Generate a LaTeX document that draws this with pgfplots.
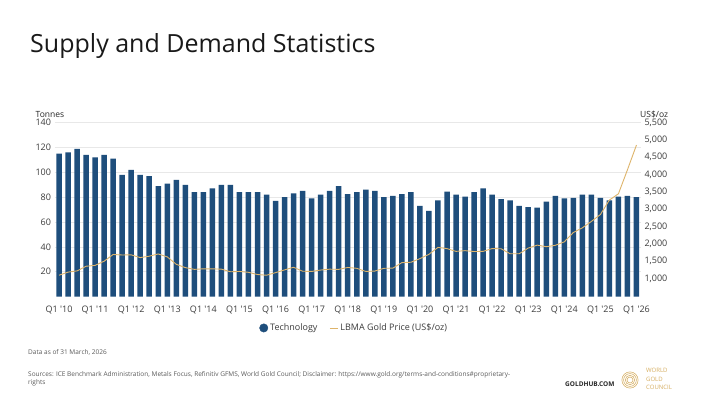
\documentclass[border=0pt]{standalone}
\usepackage{pgfplots}
\pgfplotsset{compat=1.18}
\usepackage{pgfplotstable}
\usepackage{fontspec}
\setmainfont{Open Sans}
\definecolor{techblue}{RGB}{30,78,124}
\definecolor{goldline}{RGB}{222,180,106}
\definecolor{gridgray}{RGB}{232,232,232}
\definecolor{ticktext}{RGB}{60,60,60}
\definecolor{footgray}{RGB}{90,90,90}
\definecolor{wgcgold}{RGB}{214,174,96}

\pgfplotstableread{
idx tech price
0 115 1090
1 116 1180
2 119 1215
3 114 1350
4 112 1375
5 114 1495
6 111 1690
7 98 1675
8 102 1680
9 98 1600
10 97 1640
11 89 1705
12 91 1620
13 94 1405
14 90 1310
15 84 1260
16 84 1275
17 87 1275
18 90 1265
19 90 1190
20 84 1200
21 84 1175
22 84 1110
23 82 1090
24 77 1165
25 80 1245
26 83 1320
27 85 1205
28 79 1200
29 82 1240
30 85 1265
31 89 1260
32 82.5 1315
33 84 1290
34 86 1200
35 85 1210
36 80 1290
37 81 1295
38 82.5 1455
39 84 1465
40 73 1570
41 69 1695
42 77.5 1895
43 84.5 1860
44 82 1780
45 80.5 1800
46 84 1775
47 87 1780
48 82 1860
49 78.5 1855
50 77.5 1710
51 73 1710
52 72 1875
53 71.5 1960
54 76.5 1915
55 81 1955
56 79 2055
57 79.5 2325
58 82 2460
59 82 2645
60 79.5 2845
61 77.5 3265
62 80.5 3445
63 81 4140
64 80 4855
}\datatable

\begin{document}
\begin{tikzpicture}
\useasboundingbox (0pt,0pt) rectangle (710pt,400pt);
\fill[white] (0pt,0pt) rectangle (710pt,400pt);

\node[anchor=base west, font=\fontsize{25}{30}\selectfont, text=black!90, inner sep=0] at (30pt,347pt) {Supply and Demand Statistics};

\node[anchor=west, font=\fontsize{8.5}{10}\selectfont, text=black!85, inner sep=0] at (35.5pt,285.5pt) {Tonnes};
\node[anchor=west, font=\fontsize{8.5}{10}\selectfont, text=black!85, inner sep=0] at (640pt,285.5pt) {US\$/oz};

\begin{axis}[
  name=main,
  at={(54.5pt,103.5pt)}, anchor=south west,
  width=586.5pt, height=173.8pt, scale only axis,
  xmin=-0.5, xmax=64.5, ymin=0, ymax=140,
  axis line style={draw=none},
  major tick length=0pt,
  ytick={20,40,...,140},
  ymajorgrids, grid style={gridgray, line width=0.6pt},
  xtick={0,4,...,64},
  xticklabels={Q1 \textquotesingle10, Q1 \textquotesingle11, Q1 \textquotesingle12, Q1 \textquotesingle13, Q1 \textquotesingle14, Q1 \textquotesingle15, Q1 \textquotesingle16, Q1 \textquotesingle17, Q1 \textquotesingle18, Q1 \textquotesingle19, Q1 \textquotesingle20, Q1 \textquotesingle21, Q1 \textquotesingle22, Q1 \textquotesingle23, Q1 \textquotesingle24, Q1 \textquotesingle25, Q1 \textquotesingle26},
  tick label style={font=\fontsize{9}{10}\selectfont, text=ticktext},
  xticklabel style={yshift=-6pt},
  /pgf/number format/assume math mode=true,
  ybar, bar width=5.5pt,
]
\addplot[ybar, fill=techblue, draw=none] table[x=idx,y=tech]{\datatable};
\end{axis}

\begin{axis}[
  at={(main.south west)}, anchor=south west,
  width=586.5pt, height=173.8pt, scale only axis,
  xmin=-0.5, xmax=64.5, ymin=475, ymax=5500,
  axis y line*=right, axis x line*=bottom, xtick=\empty,
  axis line style={draw=none},
  major tick length=0pt,
  ytick={1000,1500,...,5500},
  yticklabel style={/pgf/number format/.cd, 1000 sep={,}},
  tick label style={font=\fontsize{9}{10}\selectfont, text=ticktext},
  /pgf/number format/assume math mode=true,
  legend style={at={(0.511,-0.181)}, anchor=center, draw=none, fill=none,
    font=\fontsize{9}{10}\selectfont, text=ticktext,
    /tikz/every even column/.append style={column sep=10pt}},
  legend columns=2, legend cell align=left,
]
\addlegendimage{legend image code/.code={\fill[techblue] (0pt,0pt) circle (4.2pt);}}
\addlegendentry{Technology}
\addplot[goldline, line width=0.9pt,
  legend image code/.code={\draw[goldline, line width=0.9pt] (0pt,0pt) -- (8pt,0pt);}]
  table[x=idx,y=price]{\datatable};
\addlegendentry{LBMA Gold Price (US\$/oz)}
\end{axis}

\node[anchor=west, font=\fontsize{6.5}{8}\selectfont, text=footgray, inner sep=0] at (28pt,48pt) {Data as of 31 March, 2026};
\node[anchor=west, font=\fontsize{6.5}{8}\selectfont, text=footgray, inner sep=0] at (28pt,25pt) {Sources: ICE Benchmark Administration, Metals Focus, Refinitiv GFMS, World Gold Council; Disclaimer: https://www.gold.org/terms-and-conditions\#proprietary-};
\node[anchor=west, font=\fontsize{6.5}{8}\selectfont, text=footgray, inner sep=0] at (28pt,17.5pt) {rights};

\node[anchor=west, font=\bfseries\fontsize{6.5}{8}\selectfont, text=black!85, inner sep=0] at (565pt,16pt) {GOLDHUB.COM};

\foreach \r in {3,4.7,6.4,8.1} {\draw[wgcgold, line width=0.55pt] (630pt,20pt) circle (\r pt);}
\node[anchor=west, font=\fontsize{6}{7}\selectfont, text=wgcgold, inner sep=0] at (646pt,29.3pt) {WORLD};
\node[anchor=west, font=\fontsize{6}{7}\selectfont, text=wgcgold, inner sep=0] at (646pt,21pt) {GOLD};
\node[anchor=west, font=\fontsize{6}{7}\selectfont, text=wgcgold, inner sep=0] at (646pt,12.7pt) {COUNCIL};
\end{tikzpicture}
\end{document}
